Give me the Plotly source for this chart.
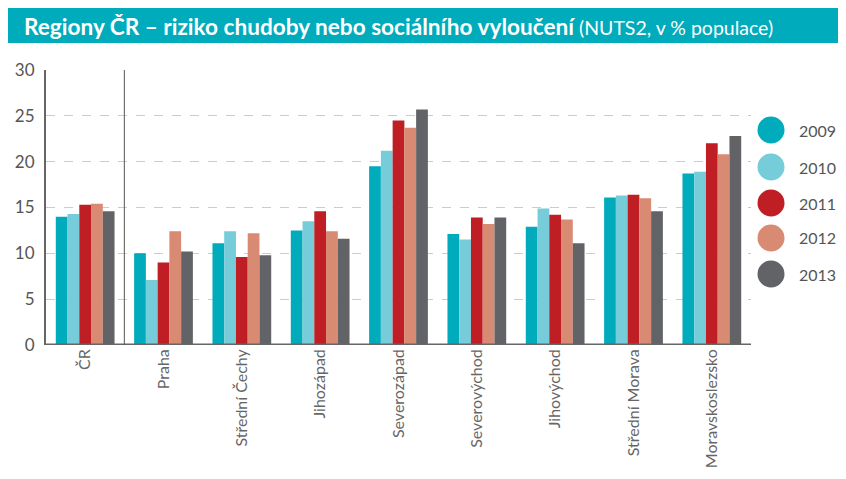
import plotly.graph_objects as go

regions = ["ČR", "Praha", "Střední Čechy", "Jihozápad", "Severozápad",
           "Severovýchod", "Jihovýchod", "Střední Morava", "Moravskoslezsko"]
years = ["2009", "2010", "2011", "2012", "2013"]

v2009 = [14.0, 10.0, 11.1, 12.5, 19.5, 12.1, 12.9, 16.1, 18.7]
v2010 = [14.3, 7.1, 12.4, 13.5, 21.2, 11.5, 14.9, 16.3, 18.9]
v2011 = [15.3, 9.0, 9.6, 14.6, 24.5, 13.9, 14.2, 16.4, 22.0]
v2012 = [15.4, 12.4, 12.2, 12.4, 23.7, 13.2, 13.7, 16.0, 20.8]
v2013 = [14.6, 10.2, 9.8, 11.6, 25.7, 13.9, 11.1, 14.6, 22.8]

series = [v2009, v2010, v2011, v2012, v2013]
colors = ["#00ABBB", "#76CCD8", "#BE1E24", "#D98A72", "#626366"]

FONT = "Lato"
# page body has an 8px margin on every side, keep the figure inside it
OFF = 8
W, H = 846 - 2 * OFF, 479 - 2 * OFF
ML, MT = 46 - OFF, 70 - OFF
MR = W - (751 - OFF)
MB = H - (345 - OFF)
PW, PH = W - ML - MR, H - MT - MB


def px_x(p):
    # page pixel -> paper x
    return (p - OFF - ML) / PW


def px_y(p):
    # page pixel -> paper y
    return (H - MB - (p - OFF)) / PH


fig = go.Figure()
for year, vals, col in zip(years, series, colors):
    fig.add_trace(go.Bar(x=regions, y=vals, name=year, marker_color=col,
                         marker_line_width=0, showlegend=False))

fig.update_layout(
    width=W, height=H, autosize=False,
    margin=dict(l=ML, r=MR, t=MT, b=MB),
    paper_bgcolor="white", plot_bgcolor="white",
    barmode="group", bargap=0.25, bargroupgap=0,
    font=dict(family=FONT, color="#555555"),
)
fig.update_xaxes(
    tickangle=-90, tickfont=dict(size=16, color="#666666"),
    showgrid=False, showline=False, ticks="", automargin=False,
    range=[-0.5, len(regions) - 0.5],
)
fig.update_yaxes(
    range=[0, 30], dtick=5, tickfont=dict(size=17, color="#555555"),
    showgrid=True, gridcolor="#cccccc", griddash="dash", gridwidth=1,
    zeroline=False, showline=True, linecolor="#666666", linewidth=2,
    ticks="", ticklabelstandoff=6, automargin=False,
)

# baseline and separator after ČR
fig.add_shape(type="line", xref="paper", yref="y", x0=0, x1=1, y0=0, y1=0,
              line=dict(color="#666666", width=3))
fig.add_shape(type="line", xref="x", yref="paper", x0=0.5, x1=0.5, y0=0, y1=1,
              line=dict(color="#555555", width=1))

# title band
fig.add_shape(type="rect", xref="paper", yref="paper", layer="below",
              x0=px_x(OFF), x1=px_x(846 - OFF), y0=px_y(43), y1=px_y(OFF),
              fillcolor="#00ABBB", line_width=0)
fig.add_annotation(
    xref="paper", yref="paper", x=px_x(22), y=px_y(26),
    xanchor="left", yanchor="middle", showarrow=False,
    text="<b>Regiony ČR – riziko chudoby nebo sociálního vyloučení</b>"
         "<span style='font-size:19.5px'> (NUTS2, v % populace)</span>",
    font=dict(family=FONT, size=22.6, color="white"),
)

# legend with round markers
leg_y = [130, 167, 203, 238, 274]
for year, col, cy in zip(years, colors, leg_y):
    fig.add_shape(type="circle", xref="paper", yref="paper",
                  xsizemode="pixel", ysizemode="pixel",
                  xanchor=px_x(771), yanchor=px_y(cy),
                  x0=-13.5, x1=13.5, y0=-13.5, y1=13.5,
                  fillcolor=col, line_width=0)
    fig.add_annotation(xref="paper", yref="paper", x=px_x(797), y=px_y(cy),
                       xanchor="left", yanchor="middle", showarrow=False,
                       text=year, font=dict(family=FONT, size=16, color="#555555"))

fig.write_html("out.html")
